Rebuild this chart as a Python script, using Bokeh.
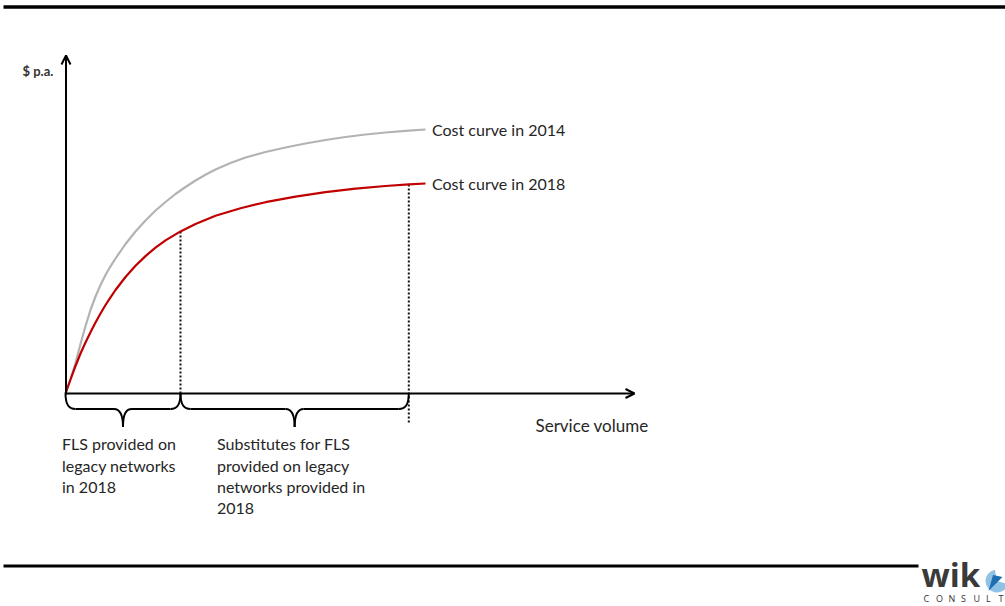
from bokeh.plotting import figure
from bokeh.models import Range1d, Arrow, OpenHead
from bokeh.core.properties import value
from bokeh.embed import file_html
from bokeh.resources import INLINE

# --- cost curves (service volume vs. annual cost, arbitrary units) ---
vol_2014 = [0.0, 0.5, 1.0, 1.5, 2.0, 2.5, 3.0, 3.5, 4.0, 4.5, 5.0, 6.0, 7.0, 8.0,
            9.0, 10.0, 11.0, 12.0, 13.0, 14.0, 15.0, 16.5, 18.0, 20.0, 22.0, 24.0,
            26.0, 28.0, 30.0, 32.0, 34.0, 36.0]
cost_2014 = [0.0, 1.45, 3.05, 4.95, 6.75, 8.35, 9.7, 10.85, 11.85, 12.72, 13.5, 14.95,
             16.2, 17.3, 18.3, 19.15, 19.95, 20.65, 21.3, 21.88, 22.4, 23.05, 23.6,
             24.15, 24.6, 25.0, 25.35, 25.65, 25.9, 26.1, 26.27, 26.4]

vol_2018 = [0.0, 0.5, 1.0, 1.5, 2.0, 2.5, 3.0, 3.5, 4.0, 4.5, 5.0, 6.0, 7.0, 8.0,
            9.0, 10.0, 11.5, 13.0, 15.0, 17.5, 20.0, 23.0, 26.0, 29.0, 32.0, 34.33,
            36.0]
cost_2018 = [0.0, 1.4, 2.75, 4.0, 5.1, 6.12, 7.1, 8.0, 8.85, 9.62, 10.35, 11.65,
             12.77, 13.74, 14.58, 15.31, 16.21, 16.96, 17.78, 18.53, 19.13, 19.69,
             20.13, 20.48, 20.75, 20.91, 21.0]

curve_labels = ["Cost curve in 2014", "Cost curve in 2018"]

# volume boundaries of the two segments served in 2018
segment_bounds = [0.0, 11.5, 34.33]
segment_texts = [
    ["FLS provided on", "legacy networks", "in 2018"],
    ["Substitutes for FLS", "provided on legacy", "networks provided in", "2018"],
]

y_axis_label = "$ p.a."
x_axis_label = "Service volume"

FONT = value("Lato")
TXT = "#262626"

p = figure(width=1005, height=606, output_backend="svg", toolbar_location=None,
           x_range=Range1d(-6.5, 94.0), y_range=Range1d(-21.3, 39.3),
           min_border=0, outline_line_color=None)
p.xaxis.visible = False
p.yaxis.visible = False
p.grid.visible = False
p.background_fill_color = "white"
p.border_fill_color = "white"

# page rules
p.segment(x0=[-6.2], y0=[38.65], x1=[94.0], y1=[38.65], line_color="black", line_width=3.5)
p.segment(x0=[-6.2], y0=[-17.25], x1=[85.3], y1=[-17.25], line_color="black", line_width=3)

# axes with arrow heads
p.add_layout(Arrow(end=OpenHead(size=9, line_width=2, line_color="black"),
                   x_start=0.05, y_start=-0.1, x_end=0.05, y_end=33.8,
                   line_width=2, line_color="black"))
p.add_layout(Arrow(end=OpenHead(size=9, line_width=2, line_color="black"),
                   x_start=0.0, y_start=0.0, x_end=56.9, y_end=0.0,
                   line_width=2, line_color="black"))

# dotted drop lines at the segment boundaries
drop_tops = [cost_2018[vol_2018.index(b)] for b in segment_bounds[1:]]
p.segment(x0=segment_bounds[1:], y0=drop_tops, x1=segment_bounds[1:], y1=[0.0, -3.0],
          line_color="#111111", line_width=2, line_dash="2 2")

# curves
p.line(vol_2014, cost_2014, line_color="#b3b3b3", line_width=2.2, line_join="round")
p.line(vol_2018, cost_2018, line_color="#c00000", line_width=2.2, line_join="round")

# curly braces under each segment
bx0, by0, bx1, by1, bcx0, bcy0, bcx1, bcy1 = ([] for _ in range(8))
hx0, hx1 = [], []
yb, ytip, rx, mx = -1.55, -3.35, 1.0, 0.9
for a, b in zip(segment_bounds[:-1], segment_bounds[1:]):
    m = (a + b) / 2
    for s, e, c0, c1 in [((a, 0.0), (a + rx, yb), (a, yb * 0.75), (a + rx * 0.35, yb)),
                         ((b, 0.0), (b - rx, yb), (b, yb * 0.75), (b - rx * 0.35, yb)),
                         ((m - mx, yb), (m, ytip), (m - mx * 0.35, yb), (m, yb - 0.45)),
                         ((m + mx, yb), (m, ytip), (m + mx * 0.35, yb), (m, yb - 0.45))]:
        bx0.append(s[0]); by0.append(s[1]); bx1.append(e[0]); by1.append(e[1])
        bcx0.append(c0[0]); bcy0.append(c0[1]); bcx1.append(c1[0]); bcy1.append(c1[1])
    hx0 += [a + rx, m + mx]
    hx1 += [m - mx, b - rx]
p.bezier(x0=bx0, y0=by0, x1=bx1, y1=by1, cx0=bcx0, cy0=bcy0, cx1=bcx1, cy1=bcy1,
         line_color="black", line_width=2)
p.segment(x0=hx0, y0=[yb] * len(hx0), x1=hx1, y1=[yb] * len(hx1),
          line_color="black", line_width=2)

# curve labels
p.text(x=[vol_2014[-1] + 0.65, vol_2018[-1] + 0.65], y=[cost_2014[-1], cost_2018[-1]],
       text=curve_labels, text_font=FONT, text_font_size="16px", text_color=TXT,
       text_baseline="middle", text_align="left")

# axis labels
p.text(x=[-4.3], y=[32.3], text=[y_axis_label], text_font=FONT, text_font_size="13px",
       text_font_style="bold", text_color="#333333", text_baseline="middle",
       text_align="left")
p.text(x=[47.0], y=[-3.2], text=[x_axis_label], text_font=FONT, text_font_size="17px",
       text_color=TXT, text_baseline="middle", text_align="left")

# segment descriptions
lx, ly, lt = [], [], []
for (a, lines), off in zip(zip(segment_bounds[:-1], segment_texts), [-0.35, 3.65]):
    for i, t in enumerate(lines):
        lx.append(a + off)
        ly.append(-5.0 - 2.17 * i)
        lt.append(t)
p.text(x=lx, y=ly, text=lt, text_font=FONT, text_font_size="16px", text_color=TXT,
       text_baseline="middle", text_align="left")

# logo
p.text(x=[85.6], y=[-18.1], text=["wik"], text_font=value("Open Sans"),
       text_font_size="33px", text_font_style="bold", text_color="#3a3a3a",
       text_baseline="middle", text_align="left")
p.wedge(x=[93.15], y=[-18.75], radius=1.15, start_angle=1.75, end_angle=6.0,
        fill_color="#8ec3e6", line_color=None)
p.patch(x=[92.3, 93.7, 92.75], y=[-19.75, -18.35, -18.15], fill_color="#1f6fb0",
        line_color=None)
consult = list("CONSULT")
p.text(x=[85.8 + 1.25 * i for i in range(len(consult))], y=[-20.5] * len(consult),
       text=consult, text_font=value("Open Sans"), text_font_size="9px",
       text_color="#333333", text_baseline="middle", text_align="left")

open("out.html", "w").write(file_html(p, INLINE))
